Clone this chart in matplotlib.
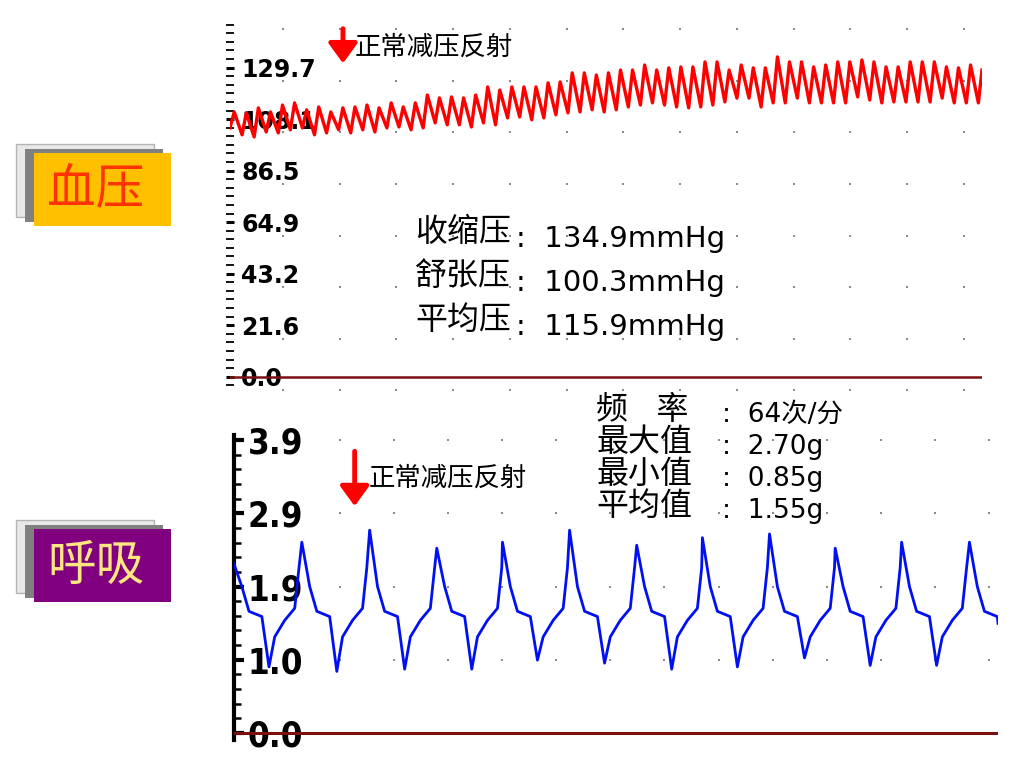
import numpy as np
import matplotlib
matplotlib.use('Agg')
import matplotlib.pyplot as plt
from matplotlib import font_manager
from matplotlib.font_manager import FontProperties
from matplotlib.patches import Rectangle
from matplotlib.ticker import MultipleLocator

W, H = 1024, 768

# blood pressure (mmHg): level at the left edge, then peak and following trough of every beat
bp_start = 104.4
bp_peaks = [111.1, 110.7, 112.8, 111.1, 114.0, 114.9, 112.0, 113.2, 111.1, 112.8, 113.2,
            114.0, 112.8, 114.9, 113.2, 114.9, 118.2, 117.0, 117.4, 117.0, 118.2,
            121.6, 120.3, 121.6, 121.6, 121.6, 123.3, 123.7, 127.5, 127.5, 126.6, 127.5,
            128.7, 128.7, 130.8, 128.7, 129.6, 130.0, 130.0, 132.1, 132.1, 128.7,
            130.8, 129.6, 129.6, 134.2, 132.1, 132.1, 130.0, 130.8, 132.1, 132.1, 132.9,
            132.1, 130.0, 130.0, 132.1, 132.1, 132.1, 130.0, 129.6, 130.8]
bp_troughs = [101.5, 100.6, 102.7, 102.3, 103.6, 104.4, 101.5, 102.3, 103.6, 102.3, 103.6,
              102.7, 104.4, 104.8, 103.6, 104.4, 106.5, 105.7, 105.7, 104.8, 106.5,
              105.7, 108.6, 109.0, 107.8, 108.6, 109.9, 110.7, 111.1, 112.0, 111.1, 112.0,
              113.2, 114.0, 114.9, 114.0, 113.2, 112.8, 113.2, 114.0, 115.3, 116.9,
              116.9, 113.2, 114.9, 114.9, 116.9, 114.9, 114.9, 114.9, 114.9, 117.4, 116.1,
              114.9, 115.3, 115.3, 115.3, 115.3, 116.9, 114.9, 114.9, 114.9]
bp_end = 128.7
bp_max = 129.7
bp_tick_labels = ['0.0', '21.6', '43.2', '64.9', '86.5', '108.1', '129.7']
bp_names = ['收缩压', '舒张压', '平均压']
bp_values = ['134.9mmHg', '100.3mmHg', '115.9mmHg']

# respiration: time (s) and value of every peak, value of the trough after it
resp_peak_t = [0.0, 0.95, 1.90, 2.84, 3.76, 4.70, 5.64, 6.56, 7.50, 8.42, 9.35, 10.30]
resp_peaks = [2.25, 2.54, 2.70, 2.46, 2.54, 2.70, 2.50, 2.60, 2.65, 2.46, 2.54, 2.54]
resp_troughs = [0.88, 0.82, 0.85, 0.85, 0.97, 0.93, 0.85, 0.88, 1.00, 0.90, 0.90]
resp_t_end = 10.70
resp_end = 1.46
resp_max = 3.9
resp_tick_labels = ['0.0', '1.0', '1.9', '2.9', '3.9']
resp_names = ['频    率', '最大值', '最小值', '平均值']
resp_values = ['64次/分', '2.70g', '0.85g', '1.55g']

# one breath after its peak: time offset (s) and level (None = that breath's trough)
shape_dt = [0.11, 0.21, 0.39, 0.49, 0.57, 0.71, 0.85, 0.91]
shape_lv = [1.95, 1.62, 1.55, None, 1.28, 1.50, 1.66, 2.20]

event_text = '正常减压反射'
event_beat = 9.36
event_t = 1.69

CJK = ['Noto Sans CJK SC', 'DejaVu Sans']
LAT = ['DejaVu Sans', 'Noto Sans CJK SC']

# a narrow bold face for the respiration axis, if there is one
narrow = None
for f in font_manager.fontManager.ttflist:
    squeezed = ('Narrow' in f.name or 'Condensed' in f.name
                or str(f.stretch) in ('condensed', 'semi-condensed', 'extra-condensed'))
    if squeezed and str(f.weight) in ('bold', '700') and f.style == 'normal':
        narrow = f.fname
        break
if narrow:
    resp_font = FontProperties(fname=narrow, size=25)
else:
    resp_font = FontProperties(family='DejaVu Sans', weight='bold', size=21)

RED = '#ff0000'
BLUE = '#0010f0'
BASE = '#7a1010'
DOT = '#8c8c8c'


def fx(x):
    return x / W


def fy(y):
    return 1 - y / H


fig = plt.figure(figsize=(W / 100, H / 100), dpi=100)
fig.patch.set_facecolor('white')

# ---------------- blood pressure panel ----------------
ax1 = fig.add_axes([fx(230), fy(391), fx(982) - fx(230), fy(24) - fy(391)])
x = [0.0]
y = [bp_start]
for k, (p, t) in enumerate(zip(bp_peaks, bp_troughs)):
    x += [k + 0.35, k + 1.0]
    y += [p, t]
x.append(len(bp_peaks) + 0.3)
y.append(bp_end)
ax1.plot(x, y, color=RED, lw=2.4, zorder=4)
ax1.set_xlim(0, len(bp_peaks) + 0.3)
ax1.set_ylim(-6, 148)
ax1.axhline(0, color=BASE, lw=1.8, zorder=3)

bp_ticks = np.linspace(0, bp_max, len(bp_tick_labels))
step = bp_ticks[1]
gx = np.arange(4.39, len(bp_peaks), 4.70)
gy = np.arange(-5.6, 148, step)
GX, GY = np.meshgrid(gx, gy)
ax1.scatter(GX.ravel(), GY.ravel(), s=3, marker='s', color=DOT, lw=0, zorder=1)

ax1.set_yticks(bp_ticks)
ax1.set_yticklabels(bp_tick_labels, fontsize=17, fontweight='bold', family='DejaVu Sans')
ax1.yaxis.set_minor_locator(MultipleLocator(step / 6))
ax1.tick_params(axis='y', which='major', direction='inout', length=6, width=2.2, pad=-11)
ax1.tick_params(axis='y', which='minor', direction='inout', length=6, width=1.3)
for lab in ax1.get_yticklabels():
    lab.set_horizontalalignment('left')
ax1.set_xticks([])
for s in ax1.spines.values():
    s.set_visible(False)
ax1.patch.set_alpha(0)

ax1.annotate('', xy=(event_beat, 131.5), xytext=(event_beat, 146),
             arrowprops=dict(arrowstyle='-|>,head_length=0.55,head_width=0.4',
                             color=RED, lw=3.5, mutation_scale=22, shrinkA=0, shrinkB=0))
ax1.text(event_beat + 1.0, 138.4, event_text, family=CJK, fontsize=19,
         va='center', ha='left', color='black')

# ---------------- respiration panel ----------------
ax2 = fig.add_axes([fx(234), fy(740), fx(998) - fx(234), fy(435) - fy(740)])
tt, vv = [], []
for i, (tp, vp) in enumerate(zip(resp_peak_t, resp_peaks)):
    tt.append(tp)
    vv.append(vp)
    for dt, lv in zip(shape_dt, shape_lv):
        if tp + dt >= resp_t_end or (lv is None and i >= len(resp_troughs)):
            break
        tt.append(tp + dt)
        vv.append(resp_troughs[i] if lv is None else lv)
tt.append(resp_t_end)
vv.append(resp_end)
ax2.plot(tt, vv, color=BLUE, lw=2.0, zorder=4)
ax2.set_xlim(0, resp_t_end)
ax2.set_ylim(-0.093, 3.967)
ax2.axhline(0, color=BASE, lw=2.2, zorder=3)

resp_ticks = np.linspace(0, resp_max, len(resp_tick_labels))
gx2 = np.arange(1.4846, resp_t_end, 0.7574)
GX2, GY2 = np.meshgrid(gx2, resp_ticks[1:])
ax2.scatter(GX2.ravel(), GY2.ravel(), s=3, marker='s', color=DOT, lw=0, zorder=1)

ax2.set_yticks(resp_ticks)
ax2.set_yticklabels(resp_tick_labels, fontproperties=resp_font)
ax2.yaxis.set_minor_locator(MultipleLocator(resp_ticks[1] / 5))
ax2.tick_params(axis='y', which='major', direction='in', length=7.5, width=3, pad=-10)
ax2.tick_params(axis='y', which='minor', direction='in', length=5, width=1.8)
for lab in ax2.get_yticklabels():
    lab.set_horizontalalignment('left')
ax2.set_xticks([])
for side in ['top', 'right', 'bottom']:
    ax2.spines[side].set_visible(False)
ax2.spines['left'].set_linewidth(3)
ax2.patch.set_alpha(0)

ax2.annotate('', xy=(event_t, 3.02), xytext=(event_t, 3.75),
             arrowprops=dict(arrowstyle='-|>,head_length=0.55,head_width=0.4',
                             color=RED, lw=3.5, mutation_scale=22, shrinkA=0, shrinkB=0))
ax2.text(event_t + 0.19, 3.39, event_text, family=CJK, fontsize=19,
         va='center', ha='left', color='black')

# ---------------- statistics text ----------------
for i, (n, v) in enumerate(zip(bp_names, bp_values)):
    yb = 241 + i * 44
    fig.text(fx(415), fy(yb), n, family=CJK, fontsize=23, va='baseline', ha='left')
    fig.text(fx(516), fy(yb + 6), ':  ' + v, family=LAT, fontsize=21, va='baseline', ha='left')

for i, (n, v) in enumerate(zip(resp_names, resp_values)):
    yb = 419 + i * 32
    fig.text(fx(596), fy(yb), n, family=CJK, fontsize=23, va='baseline', ha='left')
    fig.text(fx(722), fy(yb + 3), ':  ' + v, family=LAT, fontsize=19, va='baseline', ha='left')


# ---------------- side labels ----------------
def side_label(y0, face, text, tcolor):
    fig.add_artist(Rectangle((fx(16), fy(y0 + 73)), fx(138), fy(y0) - fy(y0 + 73),
                             transform=fig.transFigure, facecolor='#e8e8e8',
                             edgecolor='#b4b4b4', lw=1))
    fig.add_artist(Rectangle((fx(25), fy(y0 + 78)), fx(138), fy(y0) - fy(y0 + 73),
                             transform=fig.transFigure, facecolor='#808080', lw=0))
    fig.add_artist(Rectangle((fx(34), fy(y0 + 82)), fx(137), fy(y0) - fy(y0 + 73),
                             transform=fig.transFigure, facecolor=face, lw=0))
    fig.text(fx(96), fy(y0 + 46), text, family=CJK, fontsize=35, color=tcolor,
             ha='center', va='center', fontweight='light')


side_label(144, '#ffc000', '血压', '#ff3300')
side_label(520, '#800080', '呼吸', '#ffe680')

fig.savefig('out.png', dpi=100, facecolor='white')
